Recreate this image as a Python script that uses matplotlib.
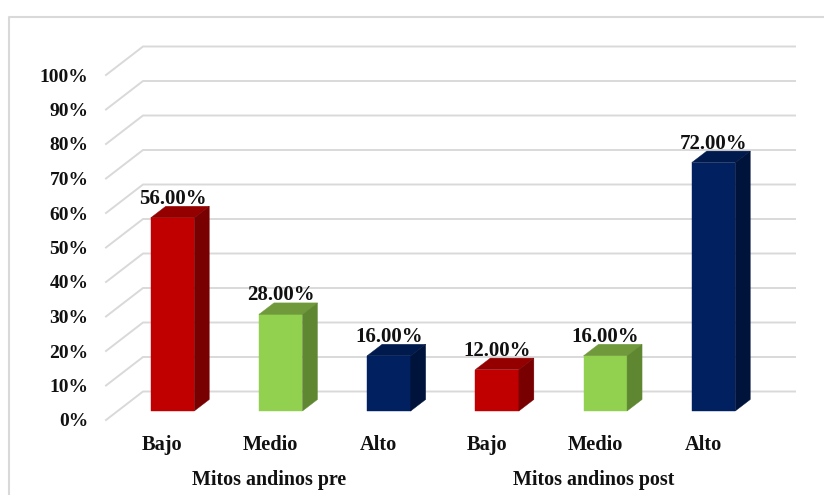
import matplotlib.pyplot as plt
from matplotlib.lines import Line2D
from matplotlib.patches import Polygon

categories = ['Bajo', 'Medio', 'Alto', 'Bajo', 'Medio', 'Alto']
groups = ['Mitos andinos pre', 'Mitos andinos post']
values = [56, 28, 16, 12, 16, 72]
value_labels = ['56.00%', '28.00%', '16.00%', '12.00%', '16.00%', '72.00%']
y_ticks = [0, 10, 20, 30, 40, 50, 60, 70, 80, 90, 100]

front = ['#C00000', '#92D050', '#002060', '#C00000', '#92D050', '#002060']
top = ['#940000', '#70993B', '#001A4D', '#940000', '#70993B', '#001A4D']
side = ['#780000', '#5F8731', '#00133A', '#780000', '#5F8731', '#00133A']

plt.rcParams['font.family'] = ['Liberation Serif', 'DejaVu Serif']
plt.rcParams['font.weight'] = 'bold'
plt.rcParams['font.size'] = 14

W, H = 824, 495
fig = plt.figure(figsize=(W / 100, H / 100), dpi=100)
ax = fig.add_axes([106 / W, 1 - 420 / H, (795 - 106) / W, (420 - 75) / H])

# one bar step is 108.2 px, 100% is 345 px tall
ax.set_xlim((106 - 172.5) / 108.2, (795 - 172.5) / 108.2)
ax.set_ylim(0, 100)
px_x = 1 / 108.2
px_y = 100 / 345

floor = 9 * px_y          # bars stand a bit behind the front edge of the floor
grid_dx = 37 * px_x
grid_dy = 28.5 * px_y
bar_w = 43.5 * px_x
bar_dx = 15 * px_x
bar_dy = 11.5 * px_y

# gridlines, going back from the tick then along the back wall
for t in y_ticks:
    ax.plot([ax.get_xlim()[0], ax.get_xlim()[0] + grid_dx, ax.get_xlim()[1]],
            [t, t + grid_dy, t + grid_dy],
            color='#D9D9D9', lw=1.4, clip_on=False, zorder=1)

xs = list(range(len(values)))
ax.bar(xs, values, width=bar_w, bottom=floor, color=front, edgecolor=front, linewidth=0.3, zorder=3)
for x, v, ct, cs, lab in zip(xs, values, top, side, value_labels):
    l = x - bar_w / 2
    r = x + bar_w / 2
    y1 = floor + v
    ax.add_patch(Polygon([(l, y1), (r, y1), (r + bar_dx, y1 + bar_dy), (l + bar_dx, y1 + bar_dy)],
                         closed=True, fc=ct, ec=ct, lw=0.3, zorder=3))
    ax.add_patch(Polygon([(r, floor), (r + bar_dx, floor + bar_dy), (r + bar_dx, y1 + bar_dy), (r, y1)],
                         closed=True, fc=cs, ec=cs, lw=0.3, zorder=3))
    ax.text(x, y1 + bar_dy + 2.5 * px_y, lab, ha='center', va='baseline', fontsize=15,
            color='#111111', zorder=4, clip_on=False)

ax.set_yticks(y_ticks)
ax.set_yticklabels([f'{t}%' for t in y_ticks], color='#111111')
ax.set_xticks([x - 10 * px_x for x in xs])
ax.set_xticklabels(categories, color='#111111', fontsize=14.7)
ax.tick_params(axis='y', length=0, pad=12.5)
ax.tick_params(axis='x', length=0, pad=10.5)
for s in ax.spines.values():
    s.set_visible(False)
ax.patch.set_visible(False)

ax.text(0.89, -60 * px_y, groups[0], ha='center', va='center', fontsize=14.4, color='#111111', clip_on=False)
ax.text(3.89, -60 * px_y, groups[1], ha='center', va='center', fontsize=14.4, color='#111111', clip_on=False)

# chart frame: only left and top show, it runs off the image
fig.add_artist(Line2D([9 / W, 9 / W, 1], [0, 1 - 17 / H, 1 - 17 / H], color='#D9D9D9', lw=1.5))

fig.savefig('out.png', dpi=100, facecolor='white')
